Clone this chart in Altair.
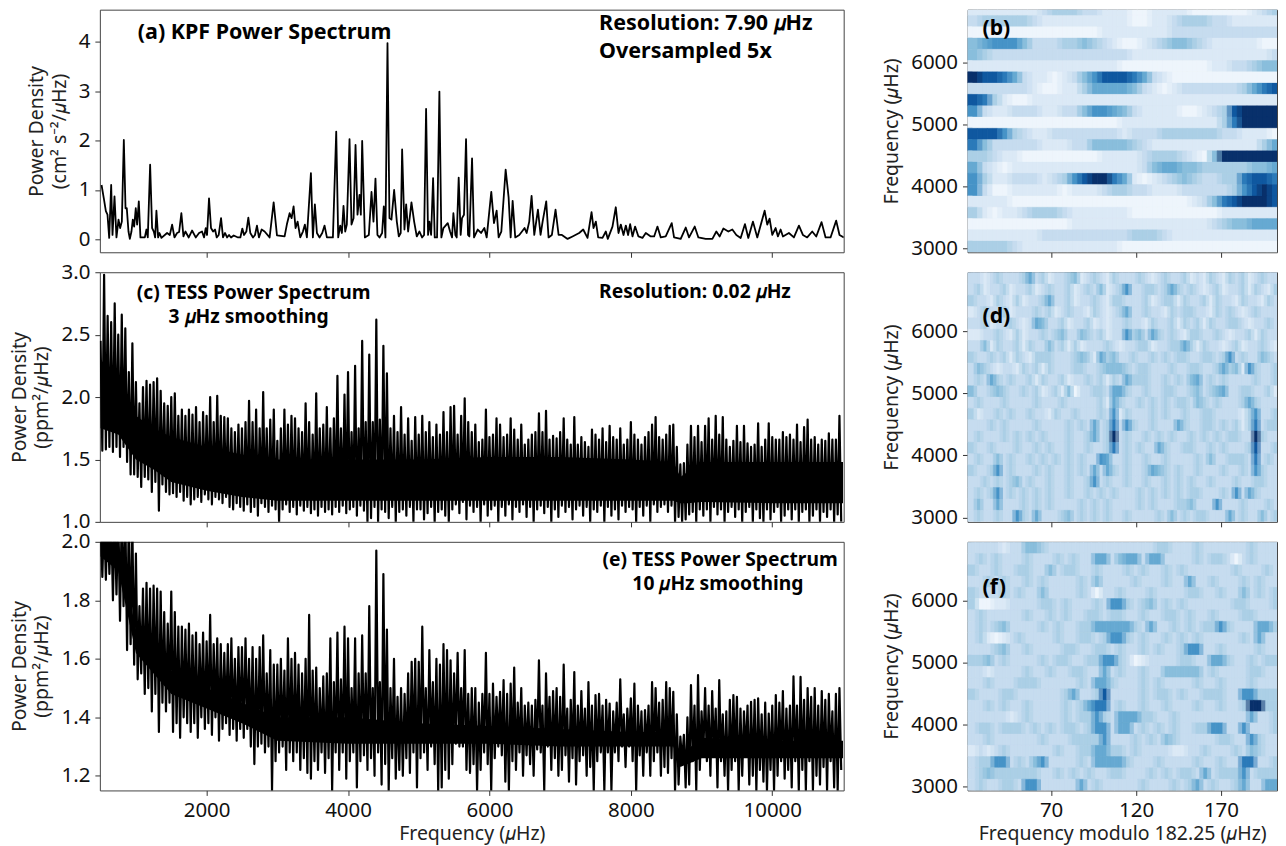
import altair as alt
import pandas as pd

FONT = "Noto Sans"
MU = "\U0001D707"

# (a) KPF spectrum: frequency (uHz) and power density
a_freq = [514,546,575,598,622,650,669,697,725,754,777,801,829,853,871,895,914,937,956,975,998,1017,1041,1064,1126,1149,1168,1201,1229,1253,1272,1290,1314,1333,1361,1441,1479,1512,1545,1582,1611,1643,1672,1700,1747,1794,1846,1893,1935,1964,1987,2006,2034,2062,2091,2119,2143,2171,2204,2232,2260,2289,2317,2345,2383,2444,2477,2505,2529,2562,2590,2618,2656,2684,2712,2740,2778,2820,2891,2948,2995,3103,3136,3174,3202,3230,3258,3287,3324,3362,3390,3418,3475,3503,3531,3560,3597,3635,3668,3701,3786,3833,3861,3889,3913,3936,3960,3983,4021,4049,4078,4106,4134,4162,4181,4200,4238,4294,4332,4360,4388,4416,4445,4482,4506,4529,4558,4586,4614,4652,4690,4718,4745,4765,4798,4822,4850,4897,4935,4972,5010,5047,5076,5104,5132,5151,5175,5203,5226,5259,5292,5320,5349,5410,5443,5471,5490,5518,5537,5565,5593,5612,5640,5669,5697,5716,5754,5782,5834,5881,5928,5961,
          6026,6064,6102,6130,6168,6229,6271,6300,6328,6365,6422,6460,6497,6526,6563,6596,6634,6686,6723,6752,6803,6836,6883,6935,6978,7025,7105,7175,7269,7326,7387,7444,7472,7505,7538,7599,7646,7674,7740,7787,7825,7858,7896,7929,7961,7990,8023,8060,8107,8164,8211,8282,8329,8376,8423,8493,8578,8611,8705,8776,8823,8903,8955,9058,9153,9209,9256,9308,9379,9435,9492,9553,9614,9661,9727,9788,9892,9929,9962,10000,10047,10080,10118,10151,10235,10306,10377,10433,10494,10565,10622,10697,10754,10824,10904,10951,11012]
a_power = [1.10,.83,.57,.50,.03,1.10,.09,.87,.04,.40,.23,.36,2.01,.63,.63,.16,.01,.16,.40,.26,.63,.30,.77,.04,.04,.20,.04,1.51,.23,.16,.04,.58,.04,.13,.03,.13,.09,.30,.04,.13,.15,.53,.06,.16,.04,.18,.04,.13,.16,.04,.23,.09,.83,.23,.16,.20,.04,.09,.43,.04,.13,.04,.09,.04,.08,.04,.04,.22,.09,.16,.44,.13,.04,.09,.28,.04,.20,.16,.04,.75,.08,.06,.31,.53,.43,.67,.23,.36,.04,.16,.30,.04,1.34,.04,.71,.13,.04,.13,.28,.04,.04,2.18,.04,.28,.13,.68,.16,.30,2.03,.30,.43,1.91,.50,.90,.50,1.99,.04,.09,.96,.36,1.23,.09,.04,.13,.67,.04,3.97,.43,.40,1.00,.36,.06,.13,1.82,.20,.71,.16,.75,.36,.06,.16,.04,.09,2.64,.09,.36,.09,1.24,.04,.04,2.99,.04,.23,.33,.16,.04,.53,.09,.04,1.25,.09,.43,.50,2.03,.09,.06,1.64,.04,.20,.13,.23,.04,
           .96,.33,.58,.04,.16,1.41,.85,.04,.78,.04,.09,.16,.23,.13,.36,.88,.09,.60,.09,.36,.77,.04,.09,.60,.09,.09,.01,.06,.13,.20,.03,.55,.23,.36,.04,.03,.16,.01,.26,.65,.13,.30,.09,.28,.09,.31,.06,.26,.06,.03,.13,.06,.06,.26,.04,.06,.33,.04,.01,.24,.04,.26,.04,.01,.01,.16,.06,.22,.16,.20,.09,.03,.31,.03,.36,.04,.58,.30,.42,.09,.23,.06,.20,.06,.13,.04,.28,.09,.04,.16,.06,.35,.04,.04,.38,.09,.04]

# (c) TESS 3 uHz: alternating crest / trough readings every 25 uHz from 500
c_crest = [2.45,2.98,2.65,2.6,2.75,2.5,2.66,2.55,2.2,2.43,
 2.12,1.95,2.08,2.13,2.1,2.12,2.15,2.05,1.95,1.93,
 2.0,2.03,1.85,1.9,1.85,1.9,1.86,1.92,1.8,1.88,
 1.85,2.0,1.8,2.01,1.85,1.84,1.83,1.75,1.72,1.78,
 1.75,1.8,1.97,1.8,1.9,1.75,2.04,1.75,1.82,1.9,
 1.65,1.75,1.9,1.78,1.85,1.83,1.75,1.72,1.95,1.8,
 1.7,2.03,1.75,1.78,1.92,1.75,1.83,2.17,1.75,2.02,
 2.2,1.72,2.25,1.75,2.45,1.8,2.34,1.8,2.62,1.82,
 2.41,2.19,1.75,1.85,1.72,1.92,1.7,1.83,1.65,1.84,
 1.7,1.85,1.72,1.8,1.68,1.78,1.7,1.88,1.72,1.92,
 1.93,1.7,1.85,1.99,1.8,1.72,1.78,1.64,1.66,1.9,
 1.68,1.7,1.83,1.78,1.68,1.7,1.83,1.74,1.66,1.78,
 1.62,1.66,1.7,1.72,1.87,1.72,1.89,1.66,1.69,1.67,
 1.72,1.83,1.66,1.62,1.84,1.62,1.68,1.64,1.6,1.74,
 1.7,1.66,1.75,1.64,1.77,1.68,1.66,1.75,1.62,1.66,
 1.8,1.7,1.66,1.62,1.68,1.72,1.78,1.84,1.68,1.66,
 1.7,1.77,1.78,1.6,1.46,1.47,1.62,1.77,1.68,1.77,
 1.64,1.77,1.83,1.66,1.85,1.7,1.84,1.66,1.6,1.65,
 1.77,1.64,1.77,1.63,1.6,1.62,1.79,1.6,1.66,1.79,
 1.68,1.66,1.66,1.72,1.68,1.7,1.66,1.78,1.64,1.76,
 1.82,1.66,1.68,1.62,1.66,1.65,1.71,1.66,1.66,1.85]
c_trough = [1.57,1.58,1.6,1.56,1.6,1.52,1.6,1.48,1.38,1.38,
 1.36,1.28,1.36,1.34,1.24,1.32,1.09,1.3,1.24,1.22,
 1.23,1.2,1.24,1.17,1.2,1.14,1.18,1.2,1.16,1.22,
 1.18,1.14,1.2,1.18,1.15,1.2,1.12,1.1,1.15,1.12,
 1.09,1.14,1.08,1.12,1.05,1.15,1.12,1.08,1.13,1.1,
 1.0,1.1,1.14,1.08,1.12,1.06,1.13,1.09,1.12,1.07,
 1.1,1.05,1.12,1.08,1.1,1.06,1.12,1.08,1.13,1.07,
 1.1,1.12,1.05,1.13,1.09,1.0,1.03,1.12,1.0,1.1,
 1.08,1.03,1.12,1.0,1.08,1.1,1.05,1.12,1.0,1.1,
 1.1,1.02,1.07,1.12,1.0,1.08,1.1,1.05,1.0,1.1,
 1.14,1.07,1.16,1.02,1.13,1.08,1.12,1.0,1.14,1.05,
 1.1,1.13,1.0,1.12,1.05,1.14,1.02,1.12,1.08,1.14,
 1.04,1.12,1.0,1.1,1.13,1.07,1.12,1.0,1.1,1.04,
 1.13,1.08,1.12,1.02,1.1,1.13,1.05,1.12,1.0,1.1,
 1.08,1.13,1.0,1.12,1.05,1.1,1.02,1.13,1.08,1.12,
 1.1,1.0,1.12,1.05,1.13,1.0,1.14,1.08,1.12,1.14,
 1.08,1.13,1.0,1.04,1.0,1.02,1.06,1.08,1.0,1.1,
 1.05,1.1,1.0,1.12,1.06,1.1,1.0,1.08,1.12,1.04,
 1.1,1.0,1.08,1.12,1.0,1.1,1.03,1.0,1.1,1.02,
 1.08,1.12,1.0,1.05,1.1,1.02,1.1,1.0,1.08,1.1,
 1.0,1.05,1.1,1.0,1.08,1.04,1.1,1.0,1.06,1.0]

# (e) TESS 10 uHz
e_crest = [2.1,2.1,2.1,2.1,2.1,2.1,2.1,2.1,2.1,2.05,
 1.96,1.78,1.84,1.86,1.84,1.85,1.84,1.83,1.76,1.72,
 1.83,1.76,1.71,1.71,1.7,1.72,1.68,1.69,1.65,1.69,
 1.66,1.75,1.65,1.67,1.65,1.62,1.65,1.67,1.6,1.64,
 1.64,1.67,1.6,1.64,1.6,1.64,1.68,1.55,1.63,1.58,
 1.58,1.6,1.56,1.67,1.6,1.62,1.58,1.55,1.6,1.75,
 1.56,1.57,1.5,1.54,1.55,1.67,1.52,1.69,1.53,1.71,
 1.67,1.5,1.67,1.55,1.68,1.55,1.78,1.5,1.97,1.52,
 1.89,1.7,1.5,1.6,1.47,1.5,1.48,1.55,1.59,1.6,
 1.59,1.71,1.5,1.63,1.52,1.6,1.58,1.65,1.63,1.595,
 1.55,1.62,1.5,1.63,1.48,1.5,1.5,1.45,1.48,1.62,
 1.48,1.515,1.47,1.487,1.527,1.48,1.515,1.57,1.45,1.5,
 1.44,1.45,1.44,1.46,1.595,1.44,1.55,1.47,1.49,1.5,
 1.47,1.58,1.43,1.46,1.555,1.44,1.49,1.43,1.52,1.44,
 1.476,1.48,1.44,1.46,1.447,1.42,1.45,1.53,1.41,1.43,
 1.465,1.515,1.44,1.42,1.425,1.44,1.52,1.5,1.45,1.46,
 1.52,1.5,1.487,1.41,1.334,1.34,1.4,1.51,1.44,1.544,
 1.42,1.5,1.44,1.49,1.43,1.527,1.41,1.42,1.46,1.476,
 1.47,1.43,1.42,1.44,1.453,1.46,1.465,1.41,1.45,1.413,
 1.44,1.476,1.45,1.49,1.43,1.44,1.54,1.44,1.538,1.46,
 1.5,1.47,1.5,1.44,1.49,1.46,1.48,1.42,1.48,1.5]
e_trough = [1.88,1.87,1.89,1.8,1.82,1.73,1.78,1.63,1.65,1.58,
 1.53,1.55,1.48,1.5,1.42,1.48,1.35,1.45,1.42,1.45,
 1.35,1.38,1.33,1.4,1.38,1.35,1.38,1.33,1.4,1.36,
 1.38,1.34,1.4,1.32,1.36,1.38,1.34,1.36,1.32,1.36,
 1.33,1.36,1.3,1.24,1.3,1.31,1.28,1.3,1.15,1.25,
 1.28,1.3,1.22,1.28,1.25,1.28,1.22,1.26,1.21,1.19,
 1.25,1.22,1.28,1.21,1.26,1.15,1.28,1.22,1.28,1.19,
 1.25,1.28,1.16,1.25,1.27,1.22,1.26,1.2,1.28,1.17,
 1.24,1.15,1.26,1.19,1.22,1.2,1.26,1.21,1.28,1.16,
 1.26,1.28,1.22,1.3,1.24,1.15,1.16,1.22,1.19,1.24,
 1.31,1.3,1.3,1.22,1.21,1.24,1.15,1.22,1.28,1.24,
 1.15,1.26,1.3,1.27,1.18,1.15,1.25,1.22,1.28,1.2,
 1.27,1.24,1.2,1.29,1.28,1.15,1.3,1.22,1.26,1.2,
 1.22,1.27,1.18,1.26,1.17,1.25,1.27,1.2,1.23,1.15,
 1.25,1.28,1.15,1.28,1.15,1.28,1.25,1.3,1.23,1.3,
 1.25,1.15,1.27,1.2,1.28,1.2,1.25,1.28,1.2,1.23,
 1.21,1.26,1.15,1.17,1.25,1.16,1.17,1.25,1.15,1.22,
 1.28,1.25,1.2,1.27,1.16,1.25,1.2,1.15,1.22,1.25,
 1.15,1.2,1.27,1.17,1.2,1.15,1.22,1.18,1.15,1.22,
 1.15,1.2,1.25,1.19,1.22,1.16,1.25,1.15,1.22,1.15,
 1.25,1.15,1.2,1.17,1.23,1.15,1.25,1.16,1.15,1.22]

# solid mass of the noise band (top, bottom) read at these frequencies
band_f = [500,750,1000,1250,1500,2000,2500,3000,4000,5000,6000,7000,8000,8600,8700,8800,9000,10000,11000]
c_band_top = [2.3,2.15,1.85,1.75,1.68,1.6,1.54,1.5,1.5,1.5,1.52,1.52,1.5,1.48,1.36,1.4,1.48,1.48,1.48]
c_band_low = [1.75,1.7,1.5,1.42,1.32,1.25,1.2,1.17,1.17,1.17,1.17,1.17,1.17,1.17,1.15,1.15,1.16,1.15,1.15]
e_band_top = [2.0,2.0,1.7,1.63,1.56,1.5,1.45,1.4,1.4,1.38,1.37,1.36,1.35,1.35,1.27,1.29,1.33,1.32,1.32]
e_band_low = [1.95,1.9,1.62,1.55,1.48,1.43,1.38,1.32,1.31,1.31,1.31,1.3,1.3,1.3,1.23,1.24,1.26,1.26,1.26]

# echelle cells, top row first, intensity digit 0-9
b_rows = ["1111111233322111001111000000123",
 "2333332111111111001123332211111",
 "0000000000000111111122222222222",
 "4566642223343210012344321111100",
 "4322222222222222111111111111112",
 "1111111111111110000000001122344",
 "9887521101246888752100000000000",
 "2222221001135555421012222223578",
 "8731001111111111111111111111111",
 "6211222112246654211110012389999",
 "0000000000000001111111111379999",
 "8886321122222221222333333221110",
 "7422222111224444321111111111135",
 "3321100000000111123332104999999",
 "5210111111111111124554433333445",
 "6311222123689975101234322337887",
 "6200111110111233221112222236898",
 "1111000000000000000000124789998",
 "3101123332111111000000000111111",
 "0000000000111111111111112344555",
 "1111111222222222333211111111111",
 "3333211111111110000000000000000"]

d_rows = ["221232223523122341232132223212322312132132312322",
 "231223122312322312324123622332353232123122313213",
 "322132131223522312232133222312331322313221322132",
 "123223122232312322132123522322132332213232123222",
 "223122321254223122312122322132231323132233212232",
 "112232131223234224323122634253232133223212231322",
 "224132231322423131222321223312233531322123122321",
 "322323132133322234315342232232323322332362322432",
 "243212213231322233223444323322232233223534163223",
 "232532322313223122323132533322323245232322223223",
 "422343223231231402233255322322332234234522332231",
 "232223222232223222223153223232323324323222353222",
 "312232322322132232223261322232322322332222136223",
 "222323222232222323252372632232225322332323137233",
 "232223232323222322352392322323232232323233229322",
 "322322232232322322322372323225322332232322238223",
 "232242322323232323226522322322322223242233327232",
 "322362322232322323252532322354323223222322326322",
 "223232342322322322362322322322323232232223223322",
 "232362323232322322323232223232323233222326253222",
 "242252223232322223232322223232223342226222322232",
 "232232263252223423232322322223242323322252322423"]

f_rows = ["2222122443222222222222223322232222223222",
 "2323222322232322552455255222232332023222",
 "3223223322423322322232322323222222322232",
 "2232322323222232422223222322522322232322",
 "3222323224222232022322232222332232242323",
 "3001122223323222326632342323222222332223",
 "2322222322323223323322322332322322233222",
 "2323422223232233555553252232323363222553",
 "2310123222232233236632322323232222232522",
 "2223422322223322332322323223662232222322",
 "3342322223233223366320122223322553223233",
 "2212222322322332252322322444442322223322",
 "2232223332222232553222323222232232223222",
 "3222332222223522382222323323223332266333",
 "2232322322223235772322322322232232239933",
 "2222212322223233632555332232222222225223",
 "2332333232323323662552323232233662262223",
 "2232222223222333362223232432222233226322",
 "1212322222232233553323222211223222324322",
 "2336623246222232555532223222232232277223",
 "2343333332232323223322232323325233362333",
 "2322332662222252322222322232352322352255"]

hm_colors = ["#f7fbff","#e3eef9","#cfe1f2","#b5d4e9","#93c4de","#6daed5","#4b97c9","#2f7ebc","#0f5aa3","#08306b"]
GRID_STEP = 25


def zigzag(crest, trough):
    freq, val = [], []
    for i, (h, l) in enumerate(zip(crest, trough)):
        freq += [500 + 2 * i * GRID_STEP, 500 + (2 * i + 1) * GRID_STEP]
        val += [h, l]
    return pd.DataFrame({"f": freq, "p": val})


def labels(items, size=21.2):
    out = []
    for text, px, py, align in items:
        out.append(alt.Chart(pd.DataFrame({"t": [text]})).mark_text(
            font=FONT, fontWeight=700, fontSize=size, color="black", align=align, baseline="middle"
        ).encode(text="t:N", x=alt.value(px), y=alt.value(py)))
    return out


def spectrum(df, ydom, yticks, fmt, ytitle, height, txt, xlabels=False, sw=2.2, band=None, size=19.3):
    xscale = alt.Scale(domain=[490, 11010], nice=False, zero=False)
    yscale = alt.Scale(domain=ydom, nice=False, zero=False)
    xaxis = alt.Axis(values=[2000, 4000, 6000, 8000, 10000], labels=xlabels, grid=False,
                     title=f"Frequency ({MU}Hz)" if xlabels else None, format="d")
    yaxis = alt.Axis(values=yticks, format=fmt, title=ytitle, grid=False)
    line = alt.Chart(df).mark_line(color="black", strokeWidth=sw, clip=True, strokeJoin="round").encode(
        x=alt.X("f:Q", scale=xscale, axis=xaxis),
        y=alt.Y("p:Q", scale=yscale, axis=yaxis),
    )
    layers = [line]
    if band is not None:
        bdf = pd.DataFrame({"f": band_f, "top": band[0], "low": band[1]})
        layers.append(alt.Chart(bdf).mark_area(color="black", clip=True).encode(
            x=alt.X("f:Q", scale=xscale, axis=xaxis),
            y=alt.Y("low:Q", scale=yscale, axis=yaxis),
            y2="top:Q"))
    return alt.layer(*layers, *labels(txt, size)).properties(width=745, height=height)


def echelle(rows, ylo, yhi, height, txt, xlabels=False, shift=0.0):
    recs = []
    n = len(rows)
    for t, row in enumerate(rows):
        k = n - 1 - t
        w = 182.25 / len(row)
        for j, ch in enumerate(row):
            recs.append({"x0": 20.75 + j * w, "x1": 20.75 + (j + 1) * w, "h": w / 2,
                         "y0": 2935 + k * 182.25, "y1": 2935 + (k + 1) * 182.25, "v": int(ch)})
    df = pd.DataFrame(recs)
    cscale = alt.Scale(domain=[i - shift for i in range(10)], range=hm_colors)
    xscale = alt.Scale(domain=[20.75, 203], nice=False, zero=False)
    yscale = alt.Scale(domain=[ylo, yhi], nice=False, zero=False)
    xaxis = alt.Axis(values=[70, 120, 170], labels=xlabels, grid=False, format="d",
                     title=f"Frequency modulo 182.25 ({MU}Hz)" if xlabels else None)
    yaxis = alt.Axis(values=[3000, 4000, 5000, 6000], grid=False, format="d",
                     title=f"Frequency ({MU}Hz)")
    rect = alt.Chart(df).mark_rect(clip=True, strokeWidth=0.6).encode(
        x=alt.X("x0:Q", scale=xscale, axis=xaxis),
        x2="x1:Q",
        y=alt.Y("y0:Q", scale=yscale, axis=yaxis),
        y2="y1:Q",
        color=alt.Color("v:Q", scale=cscale, legend=None),
        stroke=alt.Color("v:Q", scale=cscale, legend=None),
    )
    # the same cells again, half a cell over and half see-through, to soften the edges
    soft = alt.Chart(df).transform_calculate(a="datum.x0+datum.h", b="datum.x1+datum.h").mark_rect(
        clip=True, opacity=0.5).encode(
        x=alt.X("a:Q", scale=xscale, axis=xaxis), x2="b:Q",
        y=alt.Y("y0:Q", scale=yscale, axis=yaxis), y2="y1:Q",
        color=alt.Color("v:Q", scale=cscale, legend=None),
    )
    return alt.layer(rect, soft, *labels(txt)).properties(width=310, height=height)


df_a = pd.DataFrame({"f": a_freq, "p": a_power})
pa = spectrum(df_a, [-0.26, 4.646], [0, 1, 2, 3, 4], "d",
              ["Power Density", f"(cm\u00b2 s\u207b\u00b2/{MU}Hz)"], 243,
              [("(a) KPF Power Spectrum", 38, 23, "left"),
               (f"Resolution: 7.90 {MU}Hz", 500, 14, "left"),
               ("Oversampled 5x", 500, 42, "left")], sw=1.8, size=21.5)
pc = spectrum(zigzag(c_crest, c_trough), [1.0, 3.0], [1.0, 1.5, 2.0, 2.5, 3.0], ".1f",
              ["Power Density", f"(ppm\u00b2/{MU}Hz)"], 250,
              [("(c) TESS Power Spectrum", 37, 21, "left"),
               (f"3 {MU}Hz smoothing", 149, 45, "center"),
               (f"Resolution: 0.02 {MU}Hz", 500, 20, "left")], band=(c_band_top, c_band_low))
pe = spectrum(zigzag(e_crest, e_trough), [1.15, 2.0], [1.2, 1.4, 1.6, 1.8, 2.0], ".1f",
              ["Power Density", f"(ppm\u00b2/{MU}Hz)"], 249,
              [("(e) TESS Power Spectrum", 739, 18, "right"),
               (f"10 {MU}Hz smoothing", 619, 42, "center")], xlabels=True, band=(e_band_top, e_band_low))

pb = echelle(b_rows, 2935, 6855, 243, [("(b)", 15, 19, "left")])
pd_ = echelle(d_rows, 2930, 6950, 250, [("(d)", 15, 45, "left")], shift=0.5)
pf = echelle(f_rows, 2935, 6950, 249, [("(f)", 15, 46, "left")], xlabels=True, shift=0.5)

chart = alt.concat(pa, pb, pc, pd_, pe, pf, columns=2, spacing={"row": 20, "column": 124},
                   bounds="flush").properties(
    padding={"left": 0, "top": 0, "right": 0, "bottom": 4}, background="white"
).configure_view(stroke="#444", strokeWidth=1).configure_axis(
    labelFont=FONT, titleFont=FONT, labelFontSize=20.5, titleFontSize=19.5, labelColor="#111",
    titleColor="#222", titleFontWeight=400, domain=False, tickColor="#333", tickSize=5, tickWidth=1,
    labelPadding=5, titleLineHeight=23,
).configure_axisX(titlePadding=4).configure_axisY(titlePadding=9)

chart.save("out.html", embed_options={"renderer": "svg", "actions": False})
